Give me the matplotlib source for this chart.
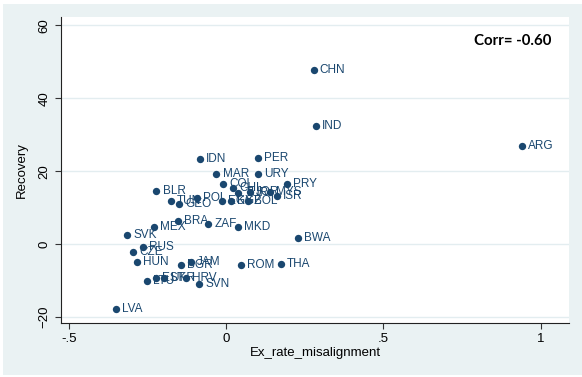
import matplotlib
matplotlib.use("Agg")
import matplotlib.pyplot as plt
from matplotlib.patches import Rectangle

# country codes with exchange rate misalignment and recovery
countries = ["CHN", "IND", "ARG", "IDN", "PER", "MAR", "URY", "COL", "CHL", "PRY",
             "BLR", "TUR", "JOR", "MYS", "ISR", "POL", "TUN", "GEO", "EGY", "KGZ",
             "BOL", "BRA", "ZAF", "MKD", "MEX", "SVK", "BWA", "RUS", "CZE", "HUN",
             "JAM", "BGR", "ROM", "THA", "LTU", "EST", "UKR", "HRV", "SVN", "LVA"]
misalignment = [0.278, 0.285, 0.941, -0.083, 0.100, -0.031, 0.102, -0.010, 0.021, 0.193,
                -0.222, 0.038, 0.076, 0.139, 0.161, -0.094, -0.176, -0.151, -0.013, 0.015,
                0.070, -0.153, -0.057, 0.037, -0.229, -0.314, 0.229, -0.264, -0.296, -0.284,
                -0.112, -0.143, 0.046, 0.174, -0.253, -0.223, -0.198, -0.128, -0.086, -0.351]
recovery = [47.8, 32.3, 27.0, 23.3, 23.6, 19.2, 19.2, 16.4, 15.5, 16.4,
            14.6, 14.0, 14.2, 14.4, 13.3, 12.8, 11.9, 11.0, 11.9, 11.9,
            11.9, 6.4, 5.6, 4.8, 4.8, 2.5, 1.8, -0.7, -2.0, -4.8,
            -4.8, -5.7, -5.7, -5.5, -10.0, -9.2, -9.3, -9.3, -10.9, -17.8]

x_ticks = [-0.5, 0, 0.5, 1]
x_ticklabels = ["-.5", "0", ".5", "1"]
y_ticks = [-20, 0, 20, 40, 60]

navy = "#1a476f"
plt.rcParams["font.family"] = ["Liberation Sans", "DejaVu Sans"]

fig = plt.figure(figsize=(5.82, 3.77), dpi=100)
fig.patch.set_facecolor("white")
# light graph region with a thin white margin, kept behind the axes
bg = Rectangle((3 / 582, 2 / 377), 579 / 582, 371 / 377,
               transform=fig.transFigure, facecolor="#eaf2f3",
               edgecolor="none", zorder=-10)
fig.add_artist(bg)

ax = fig.add_axes([61 / 582, 1 - 323 / 377, 508 / 582, 306 / 377])
ax.set_zorder(1)
ax.set_facecolor("white")
ax.scatter(misalignment, recovery, s=28, color=navy, zorder=3, linewidths=0)
for name, xv, yv in zip(countries, misalignment, recovery):
    ax.annotate(name, (xv, yv), xytext=(4.5, 0), textcoords="offset points",
                va="center", ha="left", fontsize=8.5, color=navy, zorder=4)

ax.set_xlim(-0.525, 1.090)
ax.set_ylim(-21.6, 62.3)
ax.set_xticks(x_ticks)
ax.set_xticklabels(x_ticklabels)
ax.set_yticks(y_ticks)
ax.tick_params(axis="both", direction="out", length=4.5, width=0.8,
               labelsize=9.5, pad=3, color="#333333")
for lab in ax.get_yticklabels():
    lab.set_rotation(90)
    lab.set_va("center")

ax.yaxis.grid(True, color="#e3edf0", linewidth=1.0, zorder=0)
ax.set_axisbelow(True)
for side in ["top", "right"]:
    ax.spines[side].set_visible(False)
for side in ["left", "bottom"]:
    ax.spines[side].set_color("#222222")
    ax.spines[side].set_linewidth(0.8)

ax.set_xlabel("Ex_rate_misalignment", fontsize=9.5, labelpad=1)
ax.set_ylabel("Recovery", fontsize=9.5, labelpad=8)

ax.text(0.965, 0.922, "Corr= -0.60", transform=ax.transAxes, ha="right",
        va="center", fontsize=10.8, fontweight="bold", family=["Lato", "DejaVu Sans"])

fig.savefig("out.png", dpi=100, facecolor=fig.get_facecolor())
